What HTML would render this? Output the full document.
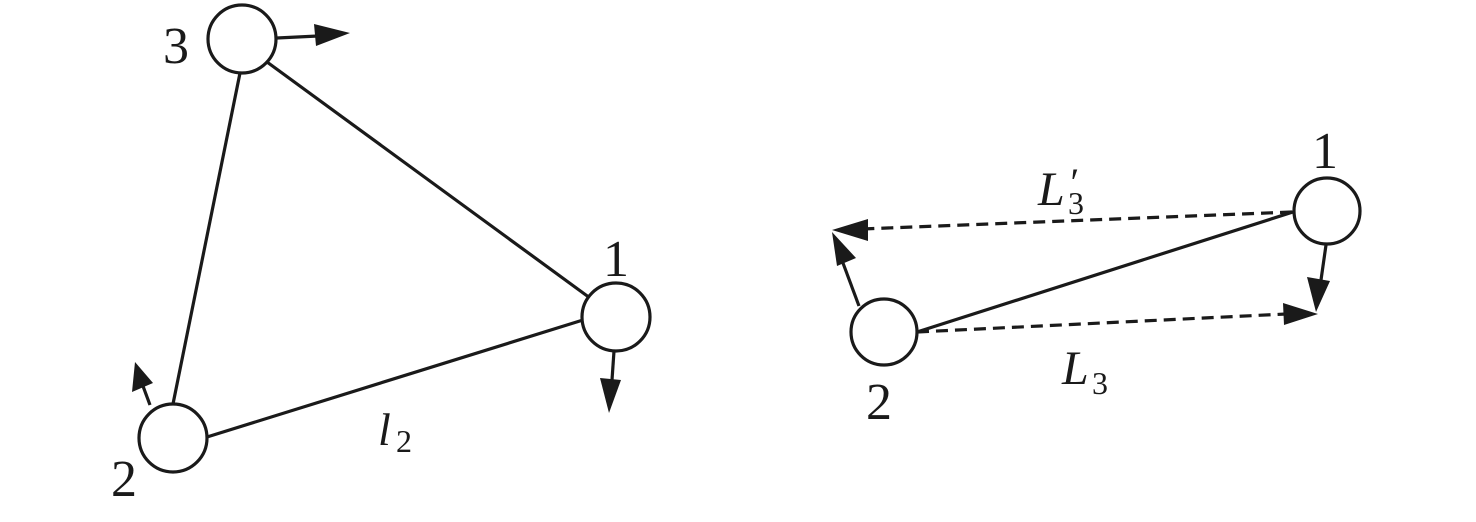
<!DOCTYPE html>
<html><head><style>
html,body{margin:0;padding:0;background:#fff;}
svg{display:block;}
text{font-family:"Liberation Serif",serif;fill:#1a1a1a;}
</style></head><body>
<svg width="1476" height="522" viewBox="0 0 1476 522" xmlns="http://www.w3.org/2000/svg">
<g stroke="#1a1a1a" stroke-width="3.2" fill="none">
<line x1="240" y1="73" x2="173" y2="404"/>
<line x1="267" y1="62" x2="590" y2="298"/>
<line x1="207" y1="437" x2="583" y2="320"/>
<circle cx="242" cy="39" r="34" fill="#fff"/>
<circle cx="616" cy="317" r="34" fill="#fff"/>
<circle cx="173" cy="438" r="34" fill="#fff"/>
<line x1="277" y1="38" x2="318" y2="36"/>
<line x1="614" y1="351" x2="612" y2="380"/>
<line x1="150" y1="405" x2="140" y2="378"/>
<line x1="917" y1="332" x2="1293" y2="212"/>
<line x1="1292" y1="212" x2="862" y2="229" stroke-dasharray="12,7"/>
<line x1="917" y1="332" x2="1286" y2="314" stroke-dasharray="12,7"/>
<circle cx="1327" cy="211" r="33" fill="#fff"/>
<circle cx="884" cy="332" r="33" fill="#fff"/>
<line x1="859" y1="306" x2="840" y2="255"/>
<line x1="1326" y1="245" x2="1321" y2="280"/>
</g>
<g fill="#1a1a1a">
<polygon points="350,33 314,24 316,46"/>
<polygon points="609,413 600,378 621,380"/>
<polygon points="135,362 132,392 153,383"/>
<polygon points="832,230 868,219 868,241"/>
<polygon points="832,232 837,266 856,258"/>
<polygon points="1316,312 1307,277 1330,281"/>
<polygon points="1318,314 1283,303 1284,325"/>
</g>
<text x="163" y="63" font-size="52">3</text>
<text x="603" y="276" font-size="52">1</text>
<text x="111" y="496" font-size="52">2</text>
<text x="378" y="445" font-size="46" font-style="italic">l</text>
<text x="396" y="452" font-size="32">2</text>
<text x="1312" y="168" font-size="52">1</text>
<text x="866" y="419" font-size="52">2</text>
<text x="1038" y="205" font-size="48" font-style="italic">L</text>
<text x="1068" y="214" font-size="32">3</text>
<text x="1068" y="196" font-size="40" font-style="italic">′</text>
<text x="1062" y="384" font-size="48" font-style="italic">L</text>
<text x="1092" y="394" font-size="32">3</text>
</svg>
</body></html>
